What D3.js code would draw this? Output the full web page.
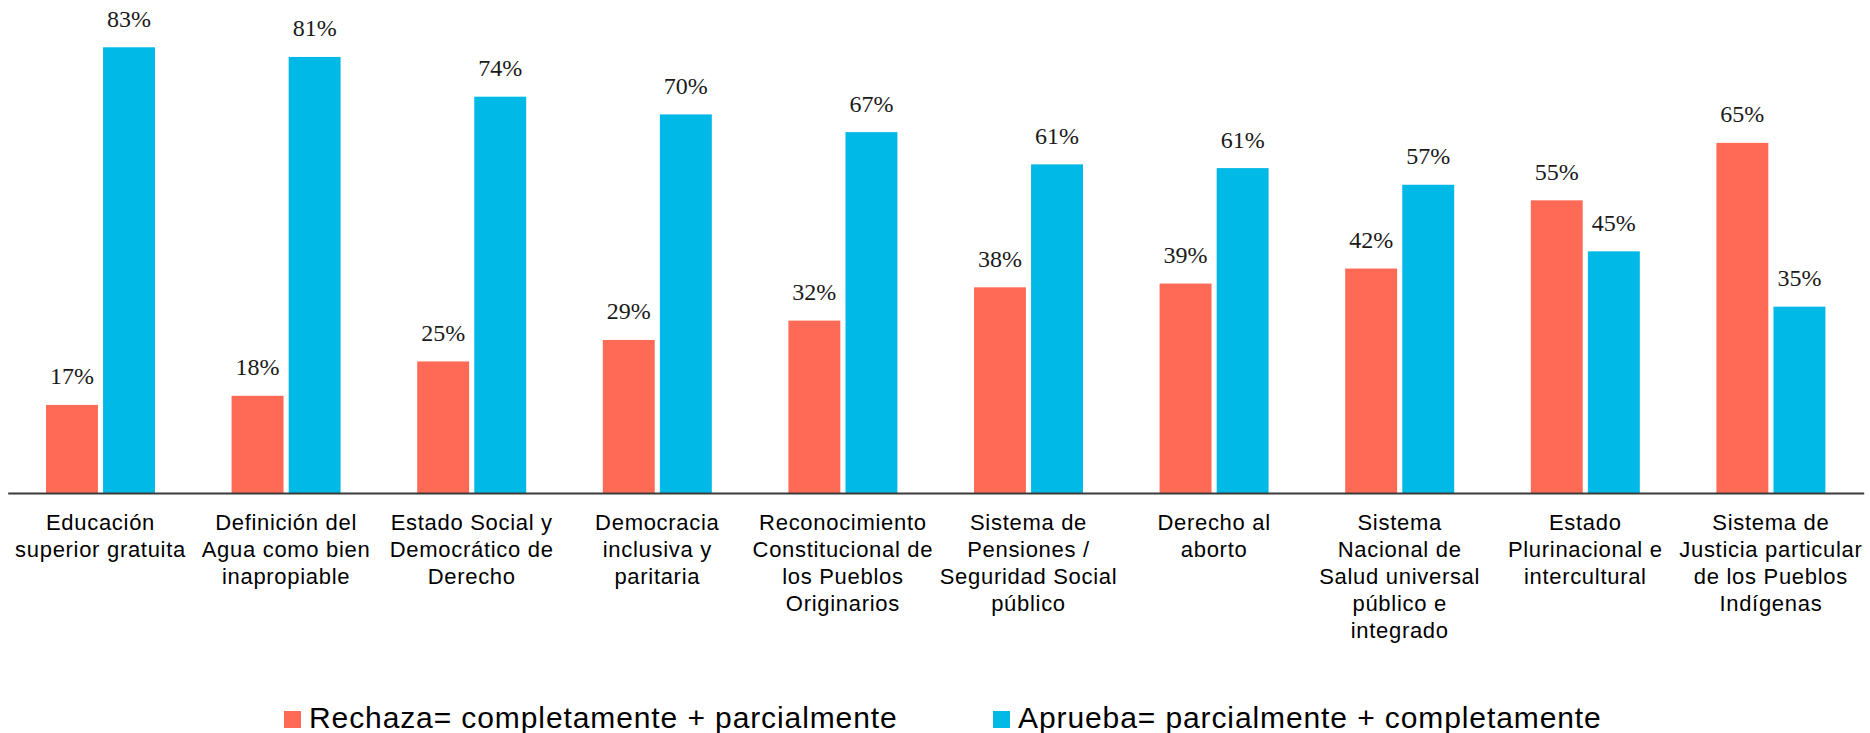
<!DOCTYPE html>
<html>
<head>
<meta charset="utf-8">
<script src="https://cdn.jsdelivr.net/npm/d3@7"></script>
<style>
  html, body { margin: 0; padding: 0; background: #ffffff; }
  svg { display: block; }
</style>
</head>
<body>
<svg id="chart" width="1870" height="733"></svg>
<script>
// ---- DATA ----
const categories = [
  "Educación superior gratuita",
  "Definición del Agua como bien inapropiable",
  "Estado Social y Democrático de Derecho",
  "Democracia inclusiva y paritaria",
  "Reconocimiento Constitucional de los Pueblos Originarios",
  "Sistema de Pensiones / Seguridad Social público",
  "Derecho al aborto",
  "Sistema Nacional de Salud universal público e integrado",
  "Estado Plurinacional e intercultural",
  "Sistema de Justicia particular de los Pueblos Indígenas"
];
const categoryLines = [
  ["Educación", "superior gratuita"],
  ["Definición del", "Agua como bien", "inapropiable"],
  ["Estado Social y", "Democrático de", "Derecho"],
  ["Democracia", "inclusiva y", "paritaria"],
  ["Reconocimiento", "Constitucional de", "los Pueblos", "Originarios"],
  ["Sistema de", "Pensiones /", "Seguridad Social", "público"],
  ["Derecho al", "aborto"],
  ["Sistema", "Nacional de", "Salud universal", "público e", "integrado"],
  ["Estado", "Plurinacional e", "intercultural"],
  ["Sistema de", "Justicia particular", "de los Pueblos", "Indígenas"]
];
const seriesNames = ["Rechaza= completamente + parcialmente", "Aprueba= parcialmente + completamente"];
const rechazaValues = [16.4, 18.1, 24.5, 28.5, 32.1, 38.3, 39.0, 41.8, 54.5, 65.2];
const apruebaValues = [83.0, 81.2, 73.8, 70.5, 67.2, 61.2, 60.5, 57.4, 45.0, 34.7];
const rechazaLabels = ["17%", "18%", "25%", "29%", "32%", "38%", "39%", "42%", "55%", "65%"];
const apruebaLabels = ["83%", "81%", "74%", "70%", "67%", "61%", "61%", "57%", "45%", "35%"];
const seriesColors = ["#FF6A56", "#00B9E7"];

// ---- CHART ----
const svg = d3.select("#chart");
const baseY = 493;
const pxPerPct = 5.37;

const x0 = d3.scaleBand().domain(categories).range([7.7, 1863.7]).paddingInner(0).paddingOuter(0);
const x1 = d3.scaleBand().domain([0, 1]).range([-54.5, 54.5]).paddingInner(0.09).paddingOuter(0);
const y = d3.scaleLinear().domain([0, 100]).range([baseY, baseY - 100 * pxPerPct]);

const rows = categories.map((c, i) => ({
  cat: c,
  vals: [
    { s: 0, v: rechazaValues[i], label: rechazaLabels[i] },
    { s: 1, v: apruebaValues[i], label: apruebaLabels[i] }
  ]
}));

const groups = svg.append("g").selectAll("g.grp")
  .data(rows).join("g")
  .attr("class", "grp")
  .attr("transform", d => `translate(${x0(d.cat) + x0.bandwidth() / 2},0)`);

groups.selectAll("rect")
  .data(d => d.vals).join("rect")
  .attr("x", d => x1(d.s))
  .attr("width", x1.bandwidth())
  .attr("y", d => y(d.v))
  .attr("height", d => y(0) - y(d.v))
  .attr("fill", d => seriesColors[d.s]);

groups.selectAll("text.val")
  .data(d => d.vals).join("text")
  .attr("class", "val")
  .attr("x", d => x1(d.s) + x1.bandwidth() / 2)
  .attr("y", d => y(d.v) - 20.5)
  .attr("text-anchor", "middle")
  .attr("font-family", "'Palatino Linotype', 'Book Antiqua', Palatino, 'Liberation Serif', serif")
  .attr("font-size", 24)
  .attr("fill", "#1a1a1a")
  .text(d => d.label);

// axis (category axis line without ticks)
const xAxis = d3.axisBottom(x0).tickSize(0).tickFormat("");
const axisG = svg.append("g")
  .attr("transform", `translate(0,${baseY})`)
  .call(xAxis);
axisG.select(".domain").attr("stroke", "#3a3a3a").attr("stroke-width", 2);

// category labels
const labelsG = svg.append("g");
categories.forEach((c, i) => {
  const t = labelsG.append("text")
    .attr("text-anchor", "middle")
    .attr("font-family", "'Liberation Sans', Arial, sans-serif")
    .attr("font-size", 22)
    .attr("letter-spacing", "0.7px")
    .attr("fill", "#000");
  categoryLines[i].forEach((line, j) => {
    t.append("tspan")
      .attr("x", x0(c) + x0.bandwidth() / 2)
      .attr("y", 530 + j * 27)
      .text(line);
  });
});

// legend
const legendX = [284, 993];
const legend = svg.append("g");
seriesNames.forEach((name, i) => {
  legend.append("rect")
    .attr("x", legendX[i]).attr("y", 711)
    .attr("width", 17).attr("height", 17)
    .attr("fill", seriesColors[i]);
  legend.append("text")
    .attr("x", legendX[i] + 25).attr("y", 727.5)
    .attr("font-family", "'Liberation Sans', Arial, sans-serif")
    .attr("font-size", 30)
    .attr("letter-spacing", "0.9px")
    .attr("fill", "#000")
    .text(name);
});
</script>
</body>
</html>
